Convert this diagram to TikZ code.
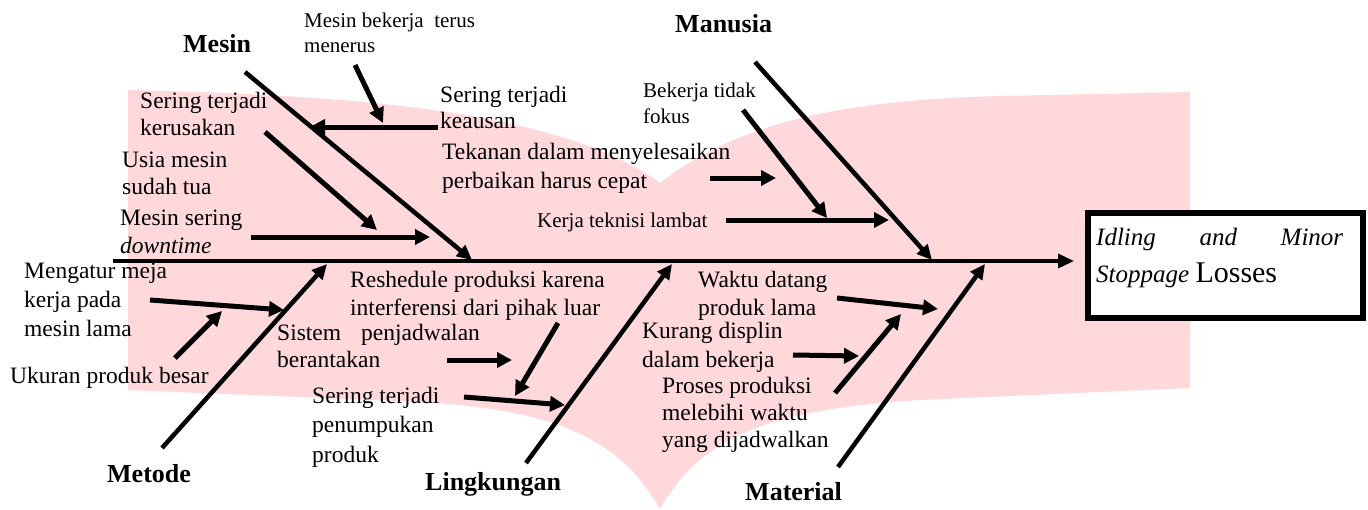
\documentclass[tikz,border=0pt]{standalone}
\usepackage{fontspec}
\setmainfont{Liberation Serif}
\usetikzlibrary{arrows.meta}
\definecolor{pinkbg}{RGB}{255,216,219}
\begin{document}
\begin{tikzpicture}[x=1pt,y=-1pt,
  txt/.style={anchor=base west, inner sep=0pt, align=left, font=\fontsize{23.5}{#1}\selectfont},
  txt/.default=28,
  smalltxt/.style={anchor=base west, inner sep=0pt, align=left, font=\fontsize{21}{#1}\selectfont},
  smalltxt/.default=25,
  lbl/.style={anchor=base west, inner sep=0pt, font=\fontsize{26}{30}\selectfont\bfseries},
  bone/.style={line width=4.5pt, -{Triangle[length=15pt,width=14pt]}},
  cause/.style={line width=5pt, -{Triangle[length=15pt,width=15pt]}},
  spine/.style={line width=3.5pt, -{Triangle[length=16pt,width=14pt]}},
]
\useasboundingbox (0,0) rectangle (1368,509);
% background shape
\fill[pinkbg] (128,90) .. controls (350,95) and (560,110) .. (660,183)
  .. controls (740,120) and (850,100) .. (1000,96) -- (1190,92) -- (1190,388)
  -- (920,400) .. controls (760,410) and (700,440) .. (660,509)
  .. controls (620,440) and (560,410) .. (420,402) -- (128,390) -- cycle;

% effect box
\node[draw, fill=white, line width=6pt, anchor=north west, minimum width=275pt, minimum height=105pt, inner sep=0pt] (effect) at (1085,210) {};
\node[anchor=base west, inner sep=0pt, align=left, font=\fontsize{25}{37}\selectfont\itshape] (etext) at (1096,282)
  {\makebox[247pt][s]{Idling\hfill and\hfill Minor}\\Stoppage {\upshape\fontsize{30}{37}\selectfont Losses}};

% spine
\coordinate (spS) at (113,261);
\coordinate (spE) at (1074,261);
\draw[spine] (spS) -- (spE);

% category labels
\node[lbl] (mesin) at (183,52) {Mesin};
\node[lbl] (manusia) at (675,32) {Manusia};
\node[lbl] (metode) at (107,482) {Metode};
\node[lbl] (lingk) at (425,490) {Lingkungan};
\node[lbl] (material) at (745,500) {Material};

% bones
\coordinate (bMesS) at (245,72);   \coordinate (bMesE) at (472,260);
\coordinate (bManS) at (755,62);   \coordinate (bManE) at (932,260);
\coordinate (bMetS) at (162,448);  \coordinate (bMetE) at (327,264);
\coordinate (bLinS) at (526,463);  \coordinate (bLinE) at (672,264);
\coordinate (bMatS) at (838,467);  \coordinate (bMatE) at (985,264);
\draw[bone] (bMesS) -- (bMesE);
\draw[bone] (bManS) -- (bManE);
\draw[bone] (bMetS) -- (bMetE);
\draw[bone] (bLinS) -- (bLinE);
\draw[bone] (bMatS) -- (bMatE);

% cause texts (anchor = baseline of last line)
\node[smalltxt=25] (t1) at (304,52) {Mesin bekerja\ \ terus\\menerus};
\node[txt=27] (t2) at (140,135) {Sering terjadi\\kerusakan};
\node[txt=27] (t3) at (122,194) {Usia mesin\\sudah tua};
\node[txt=28] (t4) at (120,253) {Mesin sering\\\textit{downtime}};
\node[txt=26] (t5) at (440,128) {Sering terjadi\\keausan};
\node[txt=29] (t6) at (442,188) {Tekanan dalam menyelesaikan\\perbaikan harus cepat};
\node[smalltxt=26] (t7) at (643,123) {Bekerja tidak\\fokus};
\node[smalltxt] (t8) at (537,227) {Kerja teknisi lambat};
\node[txt=29] (t9) at (24,336) {Mengatur meja\\kerja pada\\mesin lama};
\node[txt] (t10) at (10,383) {Ukuran produk besar};
\node[txt=28] (t11) at (350,315) {Reshedule produksi karena\\interferensi dari pihak luar};
\node[txt=27] (t12) at (277,367) {Sistem\hskip 20pt penjadwalan\\berantakan};
\node[txt=29.5] (t13) at (312,462) {Sering terjadi\\penumpukan\\produk};
\node[txt=28] (t14) at (698,315) {Waktu datang\\produk lama};
\node[txt=29] (t15) at (642,367) {Kurang displin\\dalam bekerja};
\node[txt=27] (t16) at (662,447) {Proses produksi\\melebihi waktu\\yang dijadwalkan};

% cause arrows
\coordinate (a1s) at (355,65);  \coordinate (a1e) at (383,123);
\coordinate (a2s) at (438,127); \coordinate (a2e) at (310,127);
\coordinate (a3s) at (265,132); \coordinate (a3e) at (377,230);
\coordinate (a4s) at (251,237); \coordinate (a4e) at (430,237);
\coordinate (a5s) at (710,178); \coordinate (a5e) at (776,178);
\coordinate (a6s) at (743,110); \coordinate (a6e) at (827,218);
\coordinate (a7s) at (726,220); \coordinate (a7e) at (889,220);
\coordinate (a8s) at (150,300); \coordinate (a8e) at (284,310);
\coordinate (a9s) at (175,358); \coordinate (a9e) at (222,311);
\coordinate (a10s) at (447,360); \coordinate (a10e) at (512,360);
\coordinate (a11s) at (558,323); \coordinate (a11e) at (515,396);
\coordinate (a12s) at (464,397); \coordinate (a12e) at (565,405);
\coordinate (a13s) at (837,298); \coordinate (a13e) at (938,309);
\coordinate (a14s) at (793,355); \coordinate (a14e) at (859,356);
\coordinate (a15s) at (835,393); \coordinate (a15e) at (901,314);
\foreach \i in {1,...,15} { \draw[cause] (a\i s) -- (a\i e); }
\end{tikzpicture}
\end{document}
